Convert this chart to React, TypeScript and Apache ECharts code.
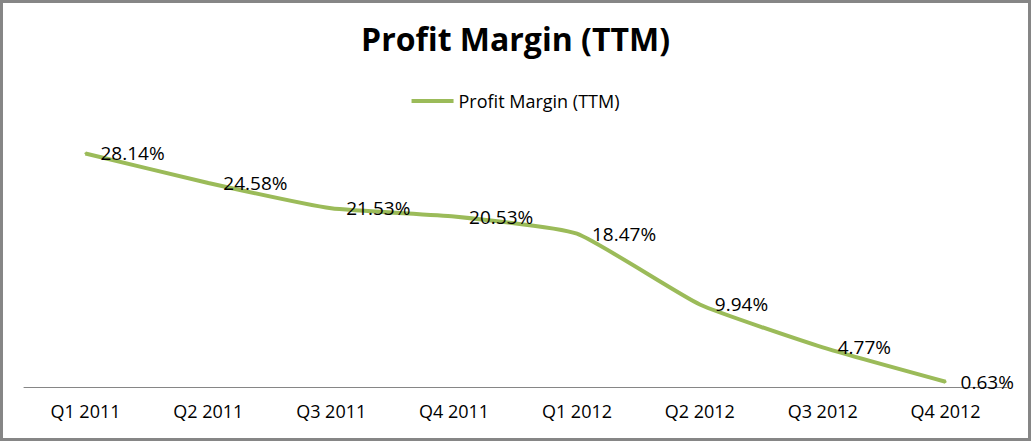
import React, { useEffect, useRef } from "react";
import * as echarts from "echarts";

const categories = ["Q1 2011", "Q2 2011", "Q3 2011", "Q4 2011", "Q1 2012", "Q2 2012", "Q3 2012", "Q4 2012"];
const profitMargin = [28.14, 24.58, 21.53, 20.53, 18.47, 9.94, 4.77, 0.63];
const seriesName = "Profit Margin (TTM)";
const titleText = "Profit Margin (TTM)";

export default function App() {
  const ref = useRef<HTMLDivElement>(null);
  useEffect(() => {
    document.body.style.margin = "0";
    const chart = echarts.init(ref.current!, null, { renderer: "svg" });
    chart.setOption({
      animation: false,
      backgroundColor: "#ffffff",
      textStyle: { fontFamily: "Open Sans" },
      title: {
        text: titleText,
        left: "center",
        top: 14,
        textStyle: { fontSize: 32, fontWeight: "bold", color: "#000", fontFamily: "Open Sans" },
      },
      legend: {
        top: 84,
        left: "center",
        itemWidth: 42,
        itemHeight: 4,
        itemGap: 6,
        textStyle: { fontSize: 18, color: "#000", fontFamily: "Open Sans" },
        data: [{ name: seriesName, icon: "rect", itemStyle: { color: "#9BBB59", opacity: 1 } }],
      },
      grid: { left: 21, right: 21, top: 135, bottom: 51, containLabel: false },
      xAxis: {
        type: "category",
        data: categories,
        boundaryGap: true,
        axisLine: { lineStyle: { color: "#868686", width: 1 } },
        axisTick: { show: false },
        axisLabel: { color: "#000", fontSize: 18, margin: 15, fontFamily: "Open Sans" },
      },
      yAxis: {
        type: "value",
        min: 0,
        max: 30,
        show: false,
        splitLine: { show: false },
      },
      series: [
        {
          name: seriesName,
          type: "line",
          data: profitMargin,
          smooth: 0.15,
          showSymbol: true,
          symbol: "circle",
          symbolSize: 2,
          lineStyle: { color: "#9BBB59", width: 4 },
          itemStyle: { color: "#9BBB59" },
          emphasis: { disabled: true },
          label: {
            show: true,
            position: "right",
            distance: 14,
            color: "#000",
            fontSize: 19,
            fontFamily: "Open Sans",
            formatter: (p: any) => p.value.toFixed(2) + "%",
          },
        },
      ],
    });
    return () => chart.dispose();
  }, []);
  return (
    <div
      style={{
        width: 1031,
        height: 441,
        boxSizing: "border-box",
        border: "3px solid #868686",
        background: "#fff",
      }}
    >
      <div ref={ref} style={{ width: 1025, height: 435 }} />
    </div>
  );
}
